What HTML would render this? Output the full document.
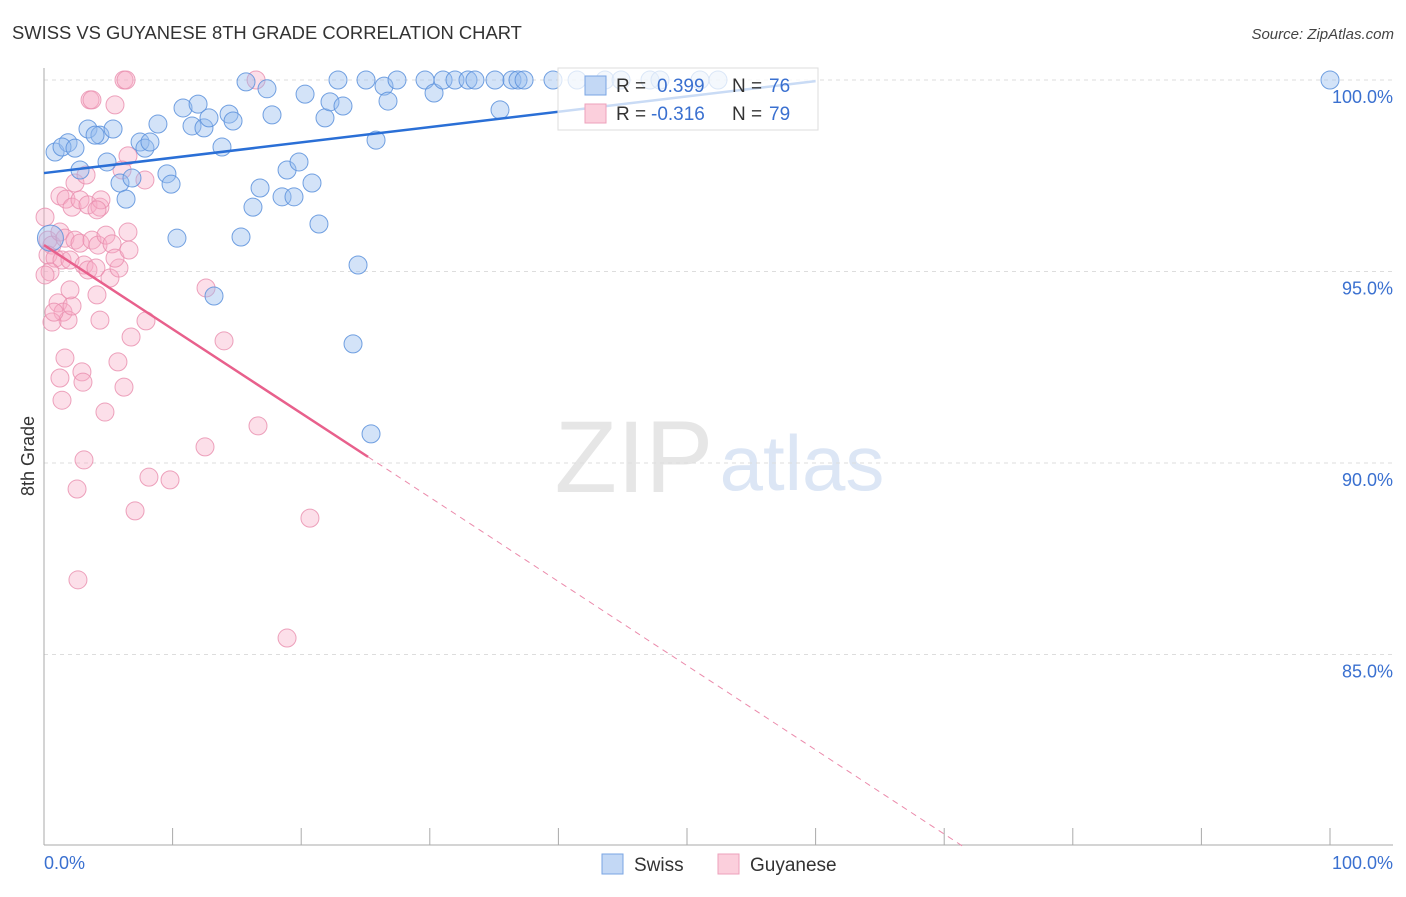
<!DOCTYPE html>
<html><head><meta charset="utf-8">
<style>
body{margin:0;background:#fff;font-family:"Liberation Sans",sans-serif;}
svg text{font-family:"Liberation Sans",sans-serif;}
</style></head>
<body>
<svg id="chart" width="1406" height="892" viewBox="0 0 1406 892" xmlns="http://www.w3.org/2000/svg">
<text x="12" y="39" font-size="18.4" fill="#333">SWISS VS GUYANESE 8TH GRADE CORRELATION CHART</text>
<text x="1394" y="39" font-size="15" fill="#444" text-anchor="end" font-style="italic">Source: ZipAtlas.com</text>
<g>
<text x="634" y="492" font-size="102" fill="#e6e6e6" text-anchor="middle" font-family="Liberation Serif,serif">ZIP</text>
<text x="802" y="490" font-size="78" fill="#dce6f5" text-anchor="middle">atlas</text>
</g>
<g id="grid"></g>
<g id="axes"></g>
<g id="points"></g>
<g id="trends"></g>
<text transform="translate(34,456) rotate(-90)" font-size="18" fill="#333" text-anchor="middle">8th Grade</text>
<g>
<rect x="558" y="68" width="260" height="62" fill="rgba(255,255,255,0.75)" stroke="#ddd"/>
<rect x="585" y="76" width="21" height="19" fill="#c3d8f5" stroke="#7aa5e3"/>
<text x="616" y="92" font-size="19" fill="#333">R = </text><text x="657" y="92" font-size="19" fill="#3a70d0">0.399</text>
<text x="732" y="92" font-size="19" fill="#333">N = </text><text x="769" y="92" font-size="19" fill="#3a70d0">76</text>
<rect x="585" y="104" width="21" height="19" fill="#fbcfdc" stroke="#eea0bb"/>
<text x="616" y="120" font-size="19" fill="#333">R = </text><text x="651" y="120" font-size="19" fill="#3a70d0">-0.316</text>
<text x="732" y="120" font-size="19" fill="#333">N = </text><text x="769" y="120" font-size="19" fill="#3a70d0">79</text>
</g>
<g>
<rect x="602" y="854" width="21" height="20" fill="#c3d8f5" stroke="#7aa5e3"/>
<text x="634" y="871" font-size="19" fill="#333">Swiss</text>
<rect x="718" y="854" width="21" height="20" fill="#fbcfdc" stroke="#eea0bb"/>
<text x="750" y="871" font-size="19" fill="#333">Guyanese</text>
</g>
</svg>
<script>
const yTicks=[100,95,90,85];
const yTickLabels=["100.0%","95.0%","90.0%","85.0%"];
const xTickLabels=["0.0%","100.0%"];
const swissX=[0.86,1.87,1.40,2.41,3.42,4.35,3.97,5.37,4.90,2.80,5.91,6.38,6.84,7.47,7.85,8.24,8.86,9.56,9.88,10.34,10.81,11.51,11.98,12.44,12.83,13.22,13.84,14.39,14.70,15.32,15.71,16.25,16.80,17.34,17.73,18.51,18.90,19.44,19.83,20.30,20.84,21.38,21.85,22.24,22.86,23.25,24.42,24.03,25.04,25.43,25.82,26.44,26.75,27.45,29.63,30.33,31.03,31.96,32.97,33.51,35.07,35.46,36.39,36.86,37.33,39.58,41.45,43.62,44.87,47.12,47.90,51.01,52.41,100,0.5];
const swissY=[98.12,98.36,98.25,98.22,98.72,98.56,98.56,98.72,97.86,97.65,97.31,96.89,97.44,98.38,98.22,98.38,98.85,97.55,97.28,95.87,99.27,98.80,99.37,98.75,99.01,94.36,98.25,99.11,98.93,95.90,99.95,96.68,97.18,99.77,99.09,96.95,97.65,96.95,97.86,99.63,97.31,96.24,99.01,99.43,100,99.32,95.17,93.11,100,90.76,98.43,99.84,99.45,100,100,99.66,100,100,100,100,100,99.22,100,100,100,100,100,100,100,100,100,100,100,100,95.87];
const guyX=[6.22,6.38,16.49,3.58,3.73,5.52,0.08,1.24,1.71,2.18,2.41,2.80,3.27,3.42,4.35,4.43,4.12,6.53,6.07,7.85,0.31,0.62,1.24,1.63,2.41,2.80,3.73,4.20,4.82,5.29,6.53,0.31,0.86,1.40,2.02,3.11,3.42,4.04,5.13,5.83,5.52,6.61,0.47,0.08,1.09,1.48,1.87,2.18,2.02,4.12,4.35,0.62,0.78,7.93,6.77,12.60,14.00,1.63,2.95,1.24,3.03,5.75,6.22,1.40,4.74,16.64,12.52,3.11,2.57,8.16,9.80,7.08,20.68,2.64,18.90];
const guyY=[100,100,100,99.48,99.48,99.35,96.42,96.97,96.89,96.68,97.31,96.87,97.52,96.74,96.68,96.87,96.61,98.02,97.65,97.39,95.82,95.69,96.03,95.87,95.82,95.74,95.82,95.69,95.95,95.72,96.03,95.43,95.35,95.30,95.30,95.17,95.04,95.09,94.83,95.09,95.35,95.56,94.99,94.91,94.18,93.94,93.73,94.10,94.52,94.39,93.73,93.68,93.94,93.71,93.29,94.57,93.19,92.74,92.38,92.22,92.11,92.64,91.98,91.64,91.33,90.97,90.42,90.08,89.32,89.63,89.56,88.75,88.56,86.95,85.43];
const swissTrend=[0,97.57,60,99.97];
const guyTrend=[0,95.69,25.2,90.16,71.6,79.96];

const NS="http://www.w3.org/2000/svg";
const X=v=>44+v*12.86;
const Y=v=>80+(100-v)*38.3;
function mk(tag,attrs,parent){const e=document.createElementNS(NS,tag);for(const k in attrs)e.setAttribute(k,attrs[k]);parent.appendChild(e);return e;}
const grid=document.getElementById('grid'),axes=document.getElementById('axes'),pts=document.getElementById('points'),tr=document.getElementById('trends');
yTicks.forEach((t,i)=>{
  const l=mk('line',{x1:44,x2:1393,y1:Y(t),y2:Y(t),stroke:'#ddd','stroke-dasharray':'4,4'},grid);
  
  
  const tx=mk('text',{x:1393,y:Y(t)+23,'font-size':18,fill:'#3a70d0','text-anchor':'end'},axes);
  tx.textContent=yTickLabels[i];
  
  
});
const ax=mk('line',{x1:44,x2:44,y1:68,y2:845,stroke:'#aaa'},axes);


const bx=mk('line',{x1:44,x2:1393,y1:845,y2:845,stroke:'#aaa'},axes);


for(let i=0;i<=10;i++){
  const t=mk('line',{x1:X(i*10),x2:X(i*10),y1:828,y2:845,stroke:'#aaa'},axes);
  
  
}
const xl0=mk('text',{x:44,y:869,'font-size':18,fill:'#3a70d0'},axes);xl0.textContent=xTickLabels[0];


const xl1=mk('text',{x:1393,y:869,'font-size':18,fill:'#3a70d0','text-anchor':'end'},axes);xl1.textContent=xTickLabels[1];



guyX.forEach((v,i)=>{
  const c=mk('circle',{cx:X(v),cy:Y(guyY[i]),r:9,fill:'rgba(246,170,196,0.38)',stroke:'rgba(232,140,172,0.8)','stroke-width':1},pts);
  
  
});
swissX.forEach((v,i)=>{
  const c=mk('circle',{cx:X(v),cy:Y(swissY[i]),r:(i===swissX.length-1?13:9),fill:'rgba(150,188,238,0.42)',stroke:'rgba(90,145,220,0.85)','stroke-width':1},pts);
  
  
});
const sl=mk('line',{x1:X(swissTrend[0]),y1:Y(swissTrend[1]),x2:X(swissTrend[2]),y2:Y(swissTrend[3]),stroke:'#2a6fd6','stroke-width':2.5},tr);


const gl=mk('line',{x1:X(guyTrend[0]),y1:Y(guyTrend[1]),x2:X(guyTrend[2]),y2:Y(guyTrend[3]),stroke:'#e8608c','stroke-width':2.5},tr);


const gd=mk('line',{x1:X(guyTrend[2]),y1:Y(guyTrend[3]),x2:X(guyTrend[4]),y2:Y(guyTrend[5]),stroke:'#eb8aab','stroke-width':1,'stroke-dasharray':'6,5'},tr);


</script>
</body></html>
